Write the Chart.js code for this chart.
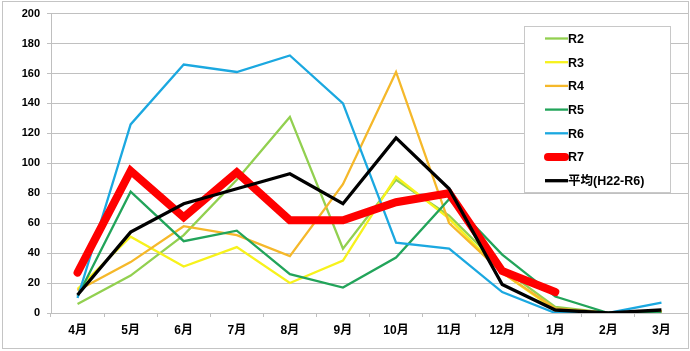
<!DOCTYPE html>
<html>
<head>
<meta charset="utf-8">
<script src="https://cdn.jsdelivr.net/npm/chart.js@4.4.1/dist/chart.umd.min.js"></script>
<style>
  html, body { margin: 0; padding: 0; background: #fff; }
  #wrap { position: relative; width: 690px; height: 351px; }
</style>
</head>
<body>
<div id="wrap"><canvas id="c" width="690" height="351"></canvas></div>
<script>
const months = ['4月','5月','6月','7月','8月','9月','10月','11月','12月','1月','2月','3月'];
const yTicks = [0,20,40,60,80,100,120,140,160,180,200];
const seriesLabels = ['R2','R3','R4','R5','R6','R7','平均(H22-R6)'];
const r2  = [6, 25, 52, 89, 131, 43, 89, 65, 30, 4, 0, 1];
const r3  = [16, 51, 31, 44, 20, 35, 91, 63, 27, 2, 0, 1];
const r4  = [15, 34, 58, 52, 38, 86, 161, 60, 27, 3, 0, 1];
const r5  = [11, 81, 48, 55, 26, 17, 37, 76, 39, 11, 0, 0];
const r6  = [10, 126, 166, 161, 172, 140, 47, 43, 14, 0, 0, 7];
const r7  = [27, 95, 64, 94, 62, 62, 74, 80, 28, 14, null, null];
const avg = [12, 54, 73, 83, 93, 73, 117, 83, 19, 2, 0, 2];

const colors = ['#92d050', '#f7f21c', '#f5b82a', '#22a45a', '#1ba8e0', '#ff0000', '#000000'];
const widths = [2.3, 2.3, 2.3, 2.3, 2.3, 8, 3.3];
const values = [r2, r3, r4, r5, r6, r7, avg];

const datasets = values.map((v, i) => ({
  label: seriesLabels[i],
  data: v,
  borderColor: colors[i],
  backgroundColor: colors[i],
  borderWidth: widths[i],
  pointRadius: 0,
  pointHoverRadius: 0,
  tension: 0,
  fill: false,
  spanGaps: false,
  borderCapStyle: i === 5 ? 'round' : 'butt',
  borderJoinStyle: 'miter',
  order: values.length - i
}));

const yFont = { family: "'Liberation Sans', 'Noto Sans CJK JP', sans-serif", size: 11, weight: 'bold' };
const xFont = { family: "'Liberation Sans', 'Noto Sans CJK JP', sans-serif", size: 12, weight: 'bold' };

const framePlugin = {
  id: 'frame',
  beforeDraw(chart) {
    const ctx = chart.ctx;
    ctx.save();
    ctx.fillStyle = '#ffffff';
    ctx.fillRect(0, 0, chart.width, chart.height);
    ctx.restore();
  },
  afterDraw(chart) {
    const ctx = chart.ctx;
    ctx.save();
    ctx.strokeStyle = '#c4c4c4';
    ctx.lineWidth = 1;
    ctx.strokeRect(2.5, 1.5, 686, 347);
    // legend
    const lx = 524.5, ly = 26.5, lw = 146, lh = 166;
    ctx.fillStyle = '#ffffff';
    ctx.fillRect(lx, ly, lw, lh);
    ctx.strokeStyle = '#c8c8c8';
    ctx.strokeRect(lx, ly, lw, lh);
    ctx.font = "bold 12.5px 'Liberation Sans', 'Noto Sans CJK JP', sans-serif";
    ctx.textBaseline = 'middle';
    ctx.textAlign = 'left';
    chart.data.datasets.forEach((ds, i) => {
      const y = 38.5 + i * 23.7;
      ctx.beginPath();
      ctx.strokeStyle = ds.borderColor;
      ctx.lineWidth = ds.borderWidth;
      ctx.lineCap = ds.borderWidth > 4 ? 'round' : 'butt';
      const x0 = ds.borderWidth > 4 ? 548 : 545;
      const x1 = ds.borderWidth > 4 ? 565 : 568;
      ctx.moveTo(x0, y);
      ctx.lineTo(x1, y);
      ctx.stroke();
      ctx.fillStyle = '#000000';
      ctx.fillText(ds.label, 568, y + 1);
    });
    ctx.restore();
  }
};

new Chart(document.getElementById('c'), {
  type: 'line',
  data: { labels: months, datasets },
  options: {
    responsive: false,
    animation: false,
    events: [],
    layout: { padding: { left: 0, right: 2, top: 8, bottom: 0 } },
    plugins: { legend: { display: false }, tooltip: { enabled: false } },
    scales: {
      x: {
        type: 'category',
        offset: true,
        grid: { display: true, drawOnChartArea: false, drawTicks: true, tickLength: 4, offset: true, color: '#bfbfbf' },
        border: { display: true, color: '#bfbfbf', width: 1 },
        ticks: { color: '#000', font: xFont, padding: 6, maxRotation: 0, autoSkip: false },
        afterFit(s) { s.height = 38; }
      },
      y: {
        min: 0,
        max: 200,
        afterBuildTicks(s) { s.ticks = yTicks.map(v => ({ value: v })); },
        grid: { display: true, drawOnChartArea: true, drawTicks: true, tickLength: 4, color: '#c0c0c0', lineWidth: 1 },
        border: { display: true, color: '#bfbfbf', width: 1 },
        ticks: { color: '#000', font: yFont, padding: 7 },
        afterFit(s) { s.width = 51; }
      }
    }
  },
  plugins: [framePlugin]
});
</script>
</body>
</html>
